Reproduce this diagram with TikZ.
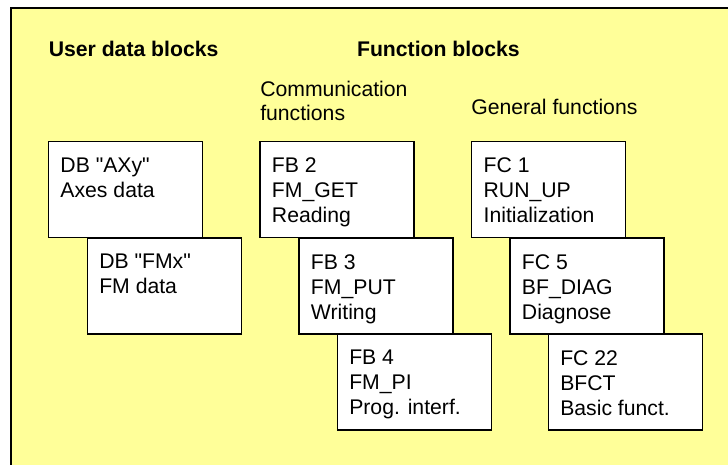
\documentclass[tikz,border=0pt]{standalone}
\usepackage{fontspec}
\setmainfont{Liberation Sans}
\newfontfamily\lsans{Liberation Sans}
\definecolor{bgyellow}{HTML}{FFFF99}
\begin{document}
\begin{tikzpicture}[x=0.75pt,y=-0.75pt,
  blockbox/.style={draw=black, line width=1pt, fill=white, minimum width=115.5pt, minimum height=72pt, inner sep=0pt, outer sep=0pt, anchor=north west},
  blocktext/.style={font=\lsans\fontsize{15.9}{18.75}\selectfont, align=left, inner sep=0pt, anchor=north west},
  subhead/.style={font=\lsans\fontsize{15.9}{18.2}\selectfont, align=left, inner sep=0pt},
  mainhead/.style={font=\lsans\fontsize{15.9}{19}\selectfont\bfseries, inner sep=0pt, anchor=base west}]
\useasboundingbox (0,0) rectangle (728,464);
\clip (0,0) rectangle (728,464);
\draw[line width=1.5pt, fill=bgyellow] (10.5,7.5) rectangle (740,480);

\node[mainhead] (hud) at (48.5,56.7) {User data blocks};
\node[mainhead] (hfb) at (356.8,56.7) {Function blocks};
\node[subhead, anchor=north west] (hcomm) at (260,81) {Communication\\functions};
\node[subhead, anchor=base west] (hgen) at (471,114) {General functions};

% user data blocks
\node[blockbox] (dbaxy) at (48.5,141.5) {};
\node[blocktext] (dbaxyt) at ([shift={(11.7,16)}]dbaxy.north west) {DB "AXy"\\Axes data};
\node[blockbox] (dbfmx) at (87.3,238) {};
\node[blocktext] (dbfmxt) at ([shift={(11.7,16)}]dbfmx.north west) {DB "FMx"\\FM data};

% communication functions
\node[blockbox] (fb2) at (260,141.5) {};
\node[blocktext] (fb2t) at ([shift={(11.7,16)}]fb2.north west) {FB 2\\FM\_GET\\Reading};
\node[blockbox] (fb3) at (299,238) {};
\node[blocktext] (fb3t) at ([shift={(11.7,16)}]fb3.north west) {FB 3\\FM\_PUT\\Writing};
\node[blockbox] (fb4) at (337.3,334) {};
\node[blocktext] (fb4t) at ([shift={(11.7,16)}]fb4.north west) {FB 4\\FM\_PI\\Prog. interf.};

% general functions
\node[blockbox] (fc1) at (471.7,141.5) {};
\node[blocktext] (fc1t) at ([shift={(11.7,16)}]fc1.north west) {FC 1\\RUN\_UP\\Initialization};
\node[blockbox] (fc5) at (510,238) {};
\node[blocktext] (fc5t) at ([shift={(11.7,16)}]fc5.north west) {FC 5\\BF\_DIAG\\Diagnose};
\node[blockbox] (fc22) at (548.3,334) {};
\node[blocktext] (fc22t) at ([shift={(11.7,16)}]fc22.north west) {FC 22\\BFCT\\Basic funct.};
\end{tikzpicture}
\end{document}
